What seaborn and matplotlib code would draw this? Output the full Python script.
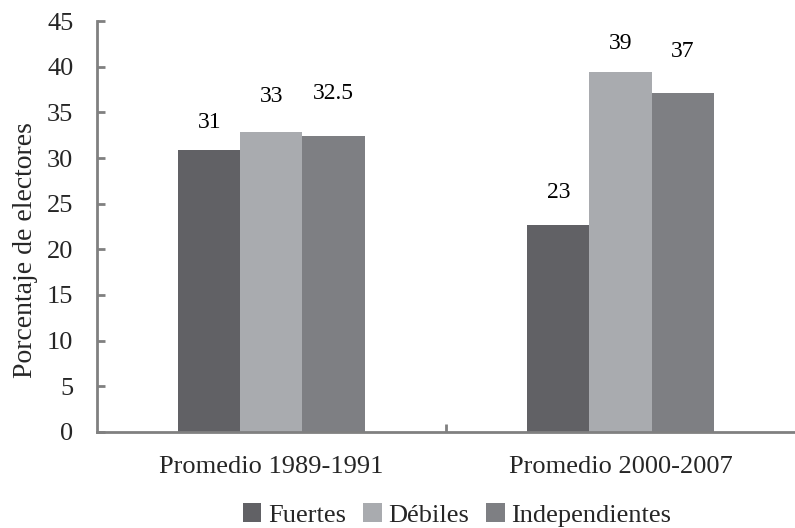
import pandas as pd
import numpy as np
import seaborn as sns
import matplotlib.pyplot as plt
from matplotlib.ticker import FixedLocator

## Data
periodos = ['Promedio 1989-1991', 'Promedio 2000-2007']
tipos = ['Fuertes', 'Débiles', 'Independientes']
fuertes = [30.9, 22.7]
debiles = [32.9, 39.4]
independientes = [32.4, 37.1]
etiquetas = [['31', '23'], ['33', '39'], ['32.5', '37']]
colores = ['#616165', '#a9abaf', '#7e7f83']

df = pd.DataFrame({
    'periodo': periodos * 3,
    'tipo': np.repeat(tipos, 2),
    'valor': fuertes + debiles + independientes,
})

sns.set_style('white')
plt.rcParams['font.family'] = ['Liberation Serif', 'DejaVu Serif']

fig = plt.figure(figsize=(7.95, 5.28), dpi=100)
ax = fig.add_axes([0.122, 0.182, 0.878, 0.778])

sns.barplot(data=df, x='periodo', y='valor', hue='tipo', order=periodos,
            hue_order=tipos, palette=colores, width=0.533, saturation=1,
            edgecolor='none', ax=ax)

## value labels, nudged a bit like in the original
offsets = [[20, 23], [25, 21], [31, 30]]
for i, cont in enumerate(ax.containers):
    for j, bar in enumerate(cont):
        ax.annotate(etiquetas[i][j], (bar.get_x() + bar.get_width() / 2, bar.get_height()),
                    xytext=(0, offsets[i][j]), textcoords='offset points',
                    ha='center', va='center', fontsize=17, color='black')

ax.set_ylim(0, 45)
ax.set_xlim(-0.5, 1.5)
ax.set_yticks(range(0, 46, 5))
ax.set_xlabel('')
ax.set_ylabel('Porcentaje de electores', fontsize=20)
ax.yaxis.set_label_coords(-0.084, 0.443)

for s in ['top', 'right']:
    ax.spines[s].set_visible(False)
for s in ['left', 'bottom']:
    ax.spines[s].set_color('#808080')
    ax.spines[s].set_linewidth(2)

ax.tick_params(axis='y', direction='in', length=6, width=2, color='#808080',
               labelsize=19, pad=17, left=True)
ax.tick_params(axis='x', which='major', length=0, labelsize=19, pad=17)
ax.xaxis.set_minor_locator(FixedLocator([0.5]))
ax.tick_params(axis='x', which='minor', direction='in', length=6, width=2,
               color='#808080', bottom=True)

sns.move_legend(ax, 'center', bbox_to_anchor=(0.575, 0.025), bbox_transform=fig.transFigure,
                ncol=3, frameon=False, title=None, fontsize=19,
                handlelength=0.7, handleheight=0.7, handletextpad=0.25, columnspacing=0.65,
                borderpad=0, borderaxespad=0)

plt.savefig('out.png', dpi=100)
